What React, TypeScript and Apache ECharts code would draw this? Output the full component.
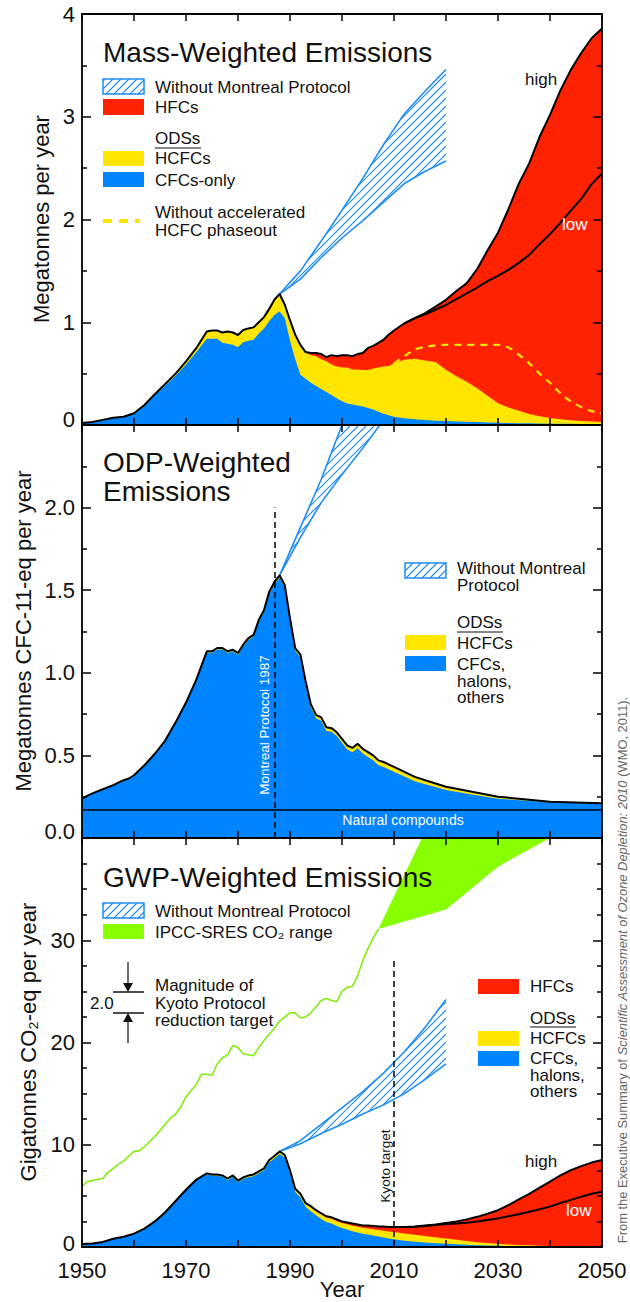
import React, { useEffect, useRef } from "react";
import * as echarts from "echarts";

// ---------- shared x values ----------
const YEARS = [
  1950, 1952, 1954, 1956, 1958, 1960, 1962, 1964, 1966, 1968, 1970, 1972,
  1974, 1975, 1976, 1977, 1978, 1979, 1980, 1981, 1982, 1983,
  1984, 1985, 1986, 1987, 1988, 1989, 1990, 1991, 1992, 1993,
  1994, 1995, 1996, 1997, 1998, 1999, 2000, 2001, 2002, 2003,
  2004, 2005, 2006, 2007, 2008, 2009, 2010,
  2012, 2014, 2016, 2018, 2020, 2022, 2024, 2026, 2028, 2030,
  2032, 2034, 2036, 2038, 2040, 2042, 2044, 2046, 2048, 2050,
];
const BAND_YEARS = [1988, 1992, 1996, 2000, 2004, 2008, 2012, 2016, 2020];

// ---------- Panel 1: mass-weighted (Mt/yr) ----------
const MASS_CFC = [
  0.02, 0.03, 0.05, 0.07, 0.08, 0.11, 0.19, 0.29, 0.385, 0.48, 0.59, 0.71,
  0.84, 0.84, 0.84, 0.8, 0.79, 0.78, 0.756, 0.805, 0.82, 0.83,
  0.89, 0.94, 1.01, 1.07, 1.105, 1.04, 0.82, 0.64, 0.49, 0.45,
  0.41, 0.38, 0.35, 0.32, 0.29, 0.26, 0.23, 0.21, 0.2, 0.19,
  0.18, 0.165, 0.15, 0.13, 0.11, 0.095, 0.08,
  0.065, 0.055, 0.048, 0.042, 0.038, 0.034, 0.031, 0.028, 0.025, 0.022,
  0.02, 0.018, 0.016, 0.015, 0.013, 0.012, 0.011, 0.01, 0.009, 0.008,
];
const MASS_HCFC = [
  0, 0, 0, 0, 0, 0.005, 0.005, 0.01, 0.015, 0.02, 0.03, 0.04,
  0.07, 0.08, 0.08, 0.1, 0.12, 0.12, 0.12, 0.12, 0.12, 0.12,
  0.11, 0.11, 0.12, 0.15, 0.17, 0.13, 0.2, 0.24, 0.29, 0.26,
  0.27, 0.29, 0.29, 0.3, 0.3, 0.31, 0.33, 0.35, 0.34, 0.35,
  0.355, 0.37, 0.4, 0.43, 0.46, 0.48, 0.52,
  0.57, 0.59, 0.58, 0.57, 0.5, 0.44, 0.39, 0.33, 0.26, 0.19,
  0.15, 0.12, 0.09, 0.07, 0.055, 0.045, 0.035, 0.03, 0.025, 0.02,
];
const MASS_HFC_HIGH = [
  0, 0, 0, 0, 0, 0, 0, 0, 0, 0, 0, 0,
  0, 0, 0, 0, 0, 0, 0, 0, 0, 0,
  0, 0, 0, 0, 0, 0, 0, 0, 0, 0,
  0.02, 0.03, 0.05, 0.04, 0.09, 0.1, 0.12, 0.12, 0.13, 0.15,
  0.165, 0.215, 0.22, 0.24, 0.26, 0.305, 0.32,
  0.355, 0.395, 0.46, 0.54, 0.68, 0.83, 0.96, 1.16, 1.415, 1.66,
  1.93, 2.21, 2.44, 2.72, 2.95, 3.2, 3.41, 3.58, 3.73, 3.83,
];
const MASS_HFC_LOW = [
  0, 0, 0, 0, 0, 0, 0, 0, 0, 0, 0, 0,
  0, 0, 0, 0, 0, 0, 0, 0, 0, 0,
  0, 0, 0, 0, 0, 0, 0, 0, 0, 0,
  0.02, 0.03, 0.05, 0.04, 0.09, 0.1, 0.12, 0.12, 0.13, 0.15,
  0.165, 0.215, 0.22, 0.24, 0.26, 0.305, 0.32,
  0.355, 0.395, 0.45, 0.51, 0.63, 0.75, 0.86, 0.98, 1.115, 1.24,
  1.34, 1.44, 1.55, 1.675, 1.79, 1.91, 2.04, 2.16, 2.31, 2.42,
];
const NO_ACCEL_YEARS = [2010, 2012, 2014, 2016, 2018, 2020, 2022, 2024, 2026, 2028, 2030, 2032, 2034, 2036, 2038, 2040, 2042, 2044, 2046, 2048, 2050];
const MASS_NO_ACCEL = [0.6, 0.67, 0.735, 0.76, 0.775, 0.78, 0.78, 0.78, 0.78, 0.78, 0.78, 0.755, 0.685, 0.6, 0.5, 0.41, 0.31, 0.23, 0.175, 0.135, 0.115];
const MASS_NOMP_LOW = [1.275, 1.42, 1.63, 1.82, 1.99, 2.17, 2.35, 2.47, 2.57];
const MASS_NOMP_HIGH = [1.275, 1.5, 1.79, 2.09, 2.4, 2.73, 3.03, 3.25, 3.46];

// ---------- Panel 2: ODP-weighted (Mt CFC-11-eq/yr) ----------
const ODP_YEARS = [
  1950, 1952, 1954, 1956, 1958, 1959, 1960,
  1962, 1964, 1966, 1968, 1970, 1972,
  1974, 1975, 1976, 1977, 1978, 1979, 1980, 1981, 1982, 1983, 1984, 1985, 1986, 1987, 1988, 1989, 1990, 1991, 1992, 1993,
  1994, 1995, 1996, 1997, 1998, 1999, 2000, 2001, 2002, 2003, 2004, 2005, 2006, 2007, 2008,
  2010, 2012, 2014, 2016, 2018, 2020,
  2025, 2030, 2035, 2040, 2045, 2050,
];
const ODP_TOTAL = [
  0.24, 0.27, 0.295, 0.32, 0.35, 0.36, 0.38,
  0.44, 0.51, 0.59, 0.7, 0.82, 0.96,
  1.13, 1.13, 1.15, 1.15, 1.13, 1.14, 1.12, 1.17, 1.21, 1.23, 1.32, 1.38, 1.49, 1.55, 1.59, 1.53, 1.33, 1.15, 1.11, 0.95,
  0.81, 0.745, 0.73, 0.67, 0.665, 0.64, 0.6, 0.56, 0.545, 0.57, 0.54, 0.52, 0.5, 0.47, 0.46,
  0.43, 0.4, 0.37, 0.35, 0.33, 0.31,
  0.28, 0.25, 0.235, 0.22, 0.215, 0.21,
];
const ODP_HCFC = [
  0.001, 0.001, 0.002, 0.002, 0.002, 0.003, 0.003,
  0.003, 0.004, 0.004, 0.005, 0.006, 0.007,
  0.008, 0.008, 0.009, 0.009, 0.01, 0.01, 0.01, 0.011, 0.011, 0.011, 0.012, 0.012, 0.013, 0.014, 0.014, 0.015, 0.016, 0.016, 0.017, 0.018,
  0.019, 0.02, 0.021, 0.022, 0.022, 0.023, 0.024, 0.025, 0.026, 0.027, 0.028, 0.029, 0.03, 0.03, 0.03,
  0.029, 0.028, 0.026, 0.024, 0.022, 0.02,
  0.016, 0.012, 0.008, 0.005, 0.003, 0.002,
];
const ODP_NATURAL = 0.175;
const ODP_NOMP_LOW = [1.59, 1.82, 2.03, 2.2, 2.36, 2.53, 2.7, 2.88, 3.05];
const ODP_NOMP_HIGH = [1.59, 1.88, 2.17, 2.5, 2.85, 3.2, 3.55, 3.9, 4.25];
const MONTREAL_YEAR = 1987;
const MONTREAL_TOP = 2.0;

// ---------- Panel 3: GWP-weighted (Gt CO2-eq/yr) ----------
const GWP_CFC = [
  0.3, 0.35, 0.5, 0.79, 0.99, 1.28, 1.78, 2.47, 3.36, 4.45, 5.54, 6.52,
  7.1, 6.99, 6.98, 6.87, 6.56, 6.85, 6.35, 6.64, 6.83, 6.92,
  7.21, 7.5, 8.28, 8.66, 9.09, 8.72, 7.2, 5.38, 4.86, 3.94,
  3.5, 3.1, 2.75, 2.45, 2.3, 2.05, 1.85, 1.7, 1.55, 1.42,
  1.3, 1.22, 1.12, 1.02, 0.93, 0.84, 0.76,
  0.62, 0.52, 0.44, 0.37, 0.31, 0.26, 0.22, 0.18, 0.15, 0.13,
  0.11, 0.09, 0.08, 0.07, 0.06, 0.05, 0.045, 0.04, 0.035, 0.03,
];
const GWP_HCFC = [
  0, 0, 0, 0.01, 0.01, 0.02, 0.02, 0.03, 0.04, 0.05, 0.06, 0.08,
  0.1, 0.11, 0.12, 0.13, 0.14, 0.15, 0.15, 0.16, 0.17, 0.18,
  0.19, 0.2, 0.22, 0.24, 0.26, 0.28, 0.3, 0.32, 0.34, 0.36,
  0.38, 0.4, 0.42, 0.44, 0.46, 0.48, 0.5, 0.52, 0.54, 0.56,
  0.58, 0.6, 0.62, 0.64, 0.66, 0.68, 0.7,
  0.7, 0.68, 0.64, 0.58, 0.52, 0.44, 0.36, 0.29, 0.23, 0.18,
  0.14, 0.11, 0.08, 0.06, 0.05, 0.04, 0.03, 0.025, 0.02, 0.015,
];
const GWP_HFC_HIGH = [
  0, 0, 0, 0, 0, 0, 0, 0, 0, 0, 0, 0,
  0, 0, 0, 0, 0, 0, 0, 0, 0, 0,
  0, 0, 0, 0, 0, 0, 0, 0, 0, 0,
  0.12, 0.1, 0.13, 0.11, 0.14, 0.17, 0.15, 0.18, 0.21, 0.22,
  0.22, 0.28, 0.31, 0.34, 0.41, 0.43, 0.49,
  0.63, 0.8, 1.02, 1.25, 1.52, 1.8, 2.12, 2.48, 2.87, 3.29,
  3.85, 4.45, 5.04, 5.67, 6.29, 6.91, 7.43, 7.84, 8.2, 8.46,
];
const GWP_HFC_LOW = [
  0, 0, 0, 0, 0, 0, 0, 0, 0, 0, 0, 0,
  0, 0, 0, 0, 0, 0, 0, 0, 0, 0,
  0, 0, 0, 0, 0, 0, 0, 0, 0, 0,
  0.12, 0.1, 0.13, 0.11, 0.14, 0.17, 0.15, 0.18, 0.21, 0.22,
  0.22, 0.28, 0.31, 0.34, 0.41, 0.43, 0.49,
  0.63, 0.78, 0.97, 1.2, 1.42, 1.6, 1.8, 2.03, 2.27, 2.49,
  2.75, 3.0, 3.29, 3.57, 3.84, 4.21, 4.53, 4.84, 5.15, 5.36,
];
const GWP_NOMP_LOW = [9.35, 10.1, 11.1, 12.0, 13.0, 13.9, 15.0, 16.4, 17.9];
const GWP_NOMP_HIGH = [9.35, 10.4, 12.0, 13.6, 15.2, 17.0, 19.1, 21.5, 24.2];
const CO2_YEARS = [
  1950, 1951, 1952, 1953, 1954, 1955, 1956, 1957, 1958, 1959,
  1960, 1961, 1962, 1963, 1964, 1965, 1966, 1967, 1968, 1969,
  1970, 1971, 1972, 1973, 1974, 1975, 1976, 1977, 1978, 1979,
  1980, 1981, 1982, 1983, 1984, 1985, 1986, 1987, 1988, 1989,
  1990, 1991, 1992, 1993, 1994, 1995, 1996, 1997, 1998, 1999,
  2000, 2001, 2002, 2003, 2004, 2005, 2006, 2007,
];
const CO2_EMIS = [
  5.9, 6.4, 6.5, 6.6, 6.7, 7.3, 7.7, 8.1, 8.4, 8.9,
  9.35, 9.4, 9.8, 10.3, 10.8, 11.4, 12.0, 12.6, 13.0, 13.7,
  14.7, 15.3, 15.9, 16.9, 16.9, 16.8, 17.9, 18.5, 18.8, 19.7,
  19.5, 18.9, 18.8, 18.7, 19.5, 20.2, 20.8, 21.4, 22.1, 22.5,
  22.9, 22.9, 22.4, 22.5, 22.9, 23.5, 24.1, 24.3, 24.1, 24.0,
  25.0, 25.4, 25.5, 26.5, 28.0, 29.2, 30.2, 31.1,
];
const SRES_YEARS = [2007, 2020, 2030, 2040, 2050];
const SRES_LOW = [31.1, 33.0, 37.2, 40.0, 42.5];
const SRES_HIGH = [31.1, 44.9, 55.5, 66.0, 76.5];
const KYOTO_YEAR = 2010;
const KYOTO_TOP = 28;

// ---------- styles ----------
const FONT = '"Liberation Sans", Arial, Helvetica, sans-serif';
const INK = "#111111";
const BLUE = "#0084ff";
const YELLOW = "#ffe600";
const RED = "#ff2200";
const GREEN = "#88ff00";
const GREEN_LINE = "#86ec10";
const HATCH = "#1f8cf0";
const HATCH_GAP = 8;

const pairs = (xs: number[], ys: number[]) => xs.map((x, i) => [x, ys[i]]);
const add = (...arrs: number[][]) => arrs[0].map((_, i) => arrs.reduce((s, a) => s + a[i], 0));
const sub = (a: number[], b: number[]) => a.map((v, i) => v - b[i]);
const from = (xs: number[], ys: number[], start: number) =>
  xs.map((x, i) => [x, ys[i]]).filter((p) => p[0] >= start);

// clip a pixel polygon to y >= yTop (Sutherland-Hodgman, one edge)
function clipTop(poly: number[][], yTop: number) {
  const out: number[][] = [];
  for (let i = 0; i < poly.length; i++) {
    const a = poly[i];
    const b = poly[(i + 1) % poly.length];
    const ain = a[1] >= yTop;
    const bin = b[1] >= yTop;
    if (ain) out.push(a);
    if (ain !== bin) {
      const t = (yTop - a[1]) / (b[1] - a[1]);
      out.push([a[0] + t * (b[0] - a[0]), yTop]);
    }
  }
  return out;
}
// "/" hatch segments inside a pixel polygon
function hatchSegs(poly: number[][], gap: number) {
  let lo = Infinity;
  let hi = -Infinity;
  poly.forEach((p) => {
    lo = Math.min(lo, p[0] + p[1]);
    hi = Math.max(hi, p[0] + p[1]);
  });
  const segs: number[][] = [];
  for (let c = Math.ceil(lo / gap) * gap; c <= hi; c += gap) {
    const xs: number[] = [];
    for (let i = 0; i < poly.length; i++) {
      const a = poly[i];
      const b = poly[(i + 1) % poly.length];
      const fa = a[0] + a[1] - c;
      const fb = b[0] + b[1] - c;
      if (fa < 0 !== fb < 0) {
        const t = fa / (fa - fb);
        xs.push(a[0] + t * (b[0] - a[0]));
      }
    }
    xs.sort((m, n) => m - n);
    for (let k = 0; k + 1 < xs.length; k += 2) segs.push([xs[k], c - xs[k], xs[k + 1], c - xs[k + 1]]);
  }
  return segs;
}

function txt(x: number, y: number, text: string, o: any = {}) {
  const size = o.size ?? 17;
  const align = o.align ?? "left";
  return {
    type: "text",
    x,
    y,
    rotation: o.rotate ?? 0,
    z: 100,
    silent: true,
    style: {
      text,
      fill: o.color ?? INK,
      font: `${size}px ${FONT}`,
      lineHeight: o.lh,
      align,
      verticalAlign: "middle",
      textAlign: align,
      textVerticalAlign: "middle",
    },
  };
}
function rect(x: number, y: number, w: number, h: number, fill: string) {
  return { type: "rect", z: 100, silent: true, shape: { x, y, width: w, height: h }, style: { fill } };
}
function seg(x1: number, y1: number, x2: number, y2: number, stroke: string, lw: number, dash?: number[]) {
  return { type: "line", z: 100, silent: true, shape: { x1, y1, x2, y2 }, style: { stroke, lineWidth: lw, lineDash: dash } };
}
function hatchBox(x: number, y: number, w: number, h: number) {
  const poly = [[x, y], [x + w, y], [x + w, y + h], [x, y + h]];
  return [
    ...hatchSegs(poly, HATCH_GAP).map((s) => seg(s[0], s[1], s[2], s[3], HATCH, 1.1)),
    { type: "rect", z: 101, silent: true, shape: { x, y, width: w, height: h }, style: { fill: "none", stroke: HATCH, lineWidth: 1.5 } },
  ];
}

const GRIDS = [
  { left: 82, top: 14, width: 520, height: 411 },
  { left: 82, top: 425, width: 520, height: 413 },
  { left: 82, top: 838, width: 520, height: 409 },
];
const Y_CFG = [
  { min: 0, max: 4, interval: 1, minor: 2, lift: 12, fmt: (v: number) => String(v) },
  { min: 0, max: 2.5, interval: 0.5, minor: 2, lift: 14, fmt: (v: number) => (v >= 2.5 ? "" : v.toFixed(1)) },
  { min: 0, max: 40, interval: 10, minor: 4, lift: 8, fmt: (v: number) => (v >= 40 ? "" : String(v)) },
];

function buildOption() {
  const axisLine = { show: true, onZero: false, lineStyle: { color: "#000", width: 1.8 } };
  const xAxis: any[] = [];
  const yAxis: any[] = [];
  GRIDS.forEach((_, gi) => {
    ["bottom", "top"].forEach((pos) => {
      const labels = gi === 2 && pos === "bottom";
      xAxis.push({
        type: "value",
        gridIndex: gi,
        position: pos,
        min: 1950,
        max: 2050,
        interval: 10,
        z: 5,
        axisLine,
        axisTick: { show: true, inside: true, length: 7, lineStyle: { color: "#000", width: 1.5 } },
        axisLabel: {
          show: labels,
          fontSize: 22,
          color: INK,
          fontFamily: FONT,
          margin: 12,
          formatter: (v: number) => ((v - 1950) % 20 === 0 ? String(v) : ""),
        },
        splitLine: { show: false },
      });
    });
    ["left", "right"].forEach((pos) => {
      const c = Y_CFG[gi];
      yAxis.push({
        type: "value",
        gridIndex: gi,
        position: pos,
        min: c.min,
        max: c.max,
        interval: c.interval,
        z: 5,
        axisLine,
        axisTick: { show: true, inside: true, length: 9, lineStyle: { color: "#000", width: 1.5 } },
        minorTick: { show: true, splitNumber: c.minor, length: 5, lineStyle: { color: "#000", width: 1.5 } },
        axisLabel: {
          show: pos === "left",
          fontSize: 22,
          color: INK,
          fontFamily: FONT,
          margin: 7,
          formatter: (v: number) => (v === 0 ? `{z|${c.fmt(v)}}` : c.fmt(v)),
          rich: { z: { fontSize: 22, fontFamily: FONT, color: INK, padding: [0, 0, c.lift, 0] } },
        },
        splitLine: { show: false },
        minorSplitLine: { show: false },
      });
    });
  });

  const ax = (gi: number) => ({ xAxisIndex: gi * 2, yAxisIndex: gi * 2 });
  const base = { type: "line", symbol: "none", silent: true, smooth: false, animation: false };
  const area = (gi: number, data: any[], color: string) => ({
    ...base,
    ...ax(gi),
    data,
    lineStyle: { width: 0, opacity: 0 },
    areaStyle: { color, opacity: 1 },
  });
  const line = (gi: number, data: any[], color: string, width: number, extra: any = {}) => ({
    ...base,
    ...ax(gi),
    data,
    ...extra,
    lineStyle: { color, width, ...(extra.lineStyle || {}) },
  });
  // region between two curves, drawn with the grid's own scales
  const region = (gi: number, xs: number[], lo: number[], hi: number[], kind: "hatch" | "fill", color: string) => ({
    type: "custom",
    ...ax(gi),
    clip: true,
    silent: true,
    animation: false,
    data: [[xs[0], lo[0]]],
    renderItem: (_p: any, api: any) => {
      const yTop = api.coord([1950, Y_CFG[gi].max])[1];
      const top = xs.map((x, i) => api.coord([x, hi[i]]));
      const bot = xs.map((x, i) => api.coord([x, lo[i]])).reverse();
      const poly = clipTop([...top, ...bot], yTop);
      if (kind === "fill") {
        return { type: "polygon", shape: { points: poly }, style: { fill: color, stroke: "none" } };
      }
      return {
        type: "group",
        children: hatchSegs(poly, HATCH_GAP).map((s) => ({
          type: "line",
          shape: { x1: s[0], y1: s[1], x2: s[2], y2: s[3] },
          style: { stroke: color, lineWidth: 1.1 },
        })),
      };
    },
  });
  const band = (gi: number, lo: number[], hi: number[]) => [
    region(gi, BAND_YEARS, lo, hi, "hatch", HATCH),
    line(gi, pairs(BAND_YEARS, hi), HATCH, 1.6),
    line(gi, pairs(BAND_YEARS, lo), HATCH, 1.6),
  ];

  const massOds = add(MASS_CFC, MASS_HCFC);
  const massHigh = add(massOds, MASS_HFC_HIGH);
  const massLow = add(massOds, MASS_HFC_LOW);
  const odpOther = sub(ODP_TOTAL, ODP_HCFC);
  const gwpOds = add(GWP_CFC, GWP_HCFC);
  const gwpHigh = add(gwpOds, GWP_HFC_HIGH);
  const gwpLow = add(gwpOds, GWP_HFC_LOW);

  const dashed = { type: [6, 4], color: "#000", width: 1.5 };
  const series: any[] = [
    // ---- panel 1 ----
    ...band(0, MASS_NOMP_LOW, MASS_NOMP_HIGH),
    area(0, pairs(YEARS, massHigh), RED),
    area(0, pairs(YEARS, massOds), YELLOW),
    area(0, pairs(YEARS, MASS_CFC), BLUE),
    line(0, pairs(NO_ACCEL_YEARS, MASS_NO_ACCEL), YELLOW, 2.2, { smooth: 0.3, lineStyle: { type: [7, 6] } }),
    line(0, from(YEARS, massLow, 2012), "#000", 2),
    line(0, pairs(YEARS, massHigh), "#000", 2),
    // ---- panel 2 ----
    ...band(1, ODP_NOMP_LOW, ODP_NOMP_HIGH),
    area(1, pairs(ODP_YEARS, ODP_TOTAL), YELLOW),
    area(1, pairs(ODP_YEARS, odpOther), BLUE),
    line(1, pairs(ODP_YEARS, ODP_TOTAL), "#000", 2, {
      markLine: {
        silent: true,
        symbol: ["none", "none"],
        label: { show: false },
        animation: false,
        data: [
          [{ coord: [MONTREAL_YEAR, 0], lineStyle: dashed }, { coord: [MONTREAL_YEAR, MONTREAL_TOP] }],
          { yAxis: ODP_NATURAL, lineStyle: { type: "solid", color: "#000", width: 1.5 } },
        ],
      },
    }),
    // ---- panel 3 ----
    region(2, SRES_YEARS, SRES_LOW, SRES_HIGH, "fill", GREEN),
    line(2, pairs(CO2_YEARS, CO2_EMIS), GREEN_LINE, 1.6),
    ...band(2, GWP_NOMP_LOW, GWP_NOMP_HIGH),
    area(2, pairs(YEARS, gwpHigh), RED),
    area(2, pairs(YEARS, gwpOds), YELLOW),
    area(2, pairs(YEARS, GWP_CFC), BLUE),
    line(2, from(YEARS, gwpLow, 2012), "#000", 2),
    line(2, pairs(YEARS, gwpHigh), "#000", 2, {
      markLine: {
        silent: true,
        symbol: ["none", "none"],
        label: { show: false },
        animation: false,
        data: [[{ coord: [KYOTO_YEAR, 0], lineStyle: dashed }, { coord: [KYOTO_YEAR, KYOTO_TOP] }]],
      },
    }),
  ];

  const g: any[] = [
    // axis names
    txt(41, 219, "Megatonnes per year", { size: 22, align: "center", rotate: Math.PI / 2 }),
    txt(23, 631, "Megatonnes CFC-11-eq per year", { size: 22, align: "center", rotate: Math.PI / 2 }),
    txt(28, 1042, "Gigatonnes CO₂-eq per year", { size: 22, align: "center", rotate: Math.PI / 2 }),
    txt(342, 1289, "Year", { size: 22, align: "center" }),
    // panel 1
    txt(103, 52, "Mass-Weighted Emissions", { size: 28 }),
    ...hatchBox(103, 79, 41, 15),
    txt(155, 87, "Without Montreal Protocol"),
    rect(103, 99, 41, 16, RED),
    txt(155, 107, "HFCs"),
    txt(155, 138, "ODSs"),
    seg(155, 148, 201, 148, INK, 1),
    rect(103, 151, 41, 15, YELLOW),
    txt(155, 158, "HCFCs"),
    rect(103, 172, 41, 15, BLUE),
    txt(155, 180, "CFCs-only"),
    seg(103, 221, 140, 221, YELLOW, 4, [9, 7]),
    txt(155, 221, "Without accelerated\nHCFC phaseout", { lh: 18 }),
    txt(525, 79, "high"),
    txt(562, 224, "low", { color: "#ffffff" }),
    // panel 2
    txt(103, 477, "ODP-Weighted\nEmissions", { size: 28, lh: 29 }),
    ...hatchBox(405, 563, 41, 15),
    txt(457, 577, "Without Montreal\nProtocol", { lh: 17 }),
    txt(457, 622, "ODSs"),
    seg(457, 632, 503, 632, INK, 1),
    rect(405, 635, 41, 15, YELLOW),
    txt(457, 643, "HCFCs"),
    rect(405, 656, 41, 15, BLUE),
    txt(457, 681, "CFCs,\nhalons,\nothers", { lh: 16.5 }),
    txt(403, 820, "Natural compounds", { size: 14, align: "center", color: "#ffffff" }),
    txt(264, 725, "Montreal Protocol 1987", { size: 13.5, align: "center", color: "#ffffff", rotate: Math.PI / 2 }),
    // panel 3
    txt(103, 877, "GWP-Weighted Emissions", { size: 28 }),
    ...hatchBox(103, 903, 41, 15),
    txt(155, 911, "Without Montreal Protocol"),
    rect(103, 924, 41, 15, GREEN),
    txt(155, 932, "IPCC-SRES CO₂ range"),
    seg(128, 962, 128, 986, INK, 1.2),
    seg(128, 1019, 128, 1043, INK, 1.2),
    seg(113, 992, 144, 992, INK, 1.5),
    seg(113, 1013, 144, 1013, INK, 1.5),
    { type: "polygon", z: 100, silent: true, shape: { points: [[123, 983], [133, 983], [128, 992]] }, style: { fill: INK } },
    { type: "polygon", z: 100, silent: true, shape: { points: [[123, 1022], [133, 1022], [128, 1013]] }, style: { fill: INK } },
    txt(90, 1003, "2.0"),
    txt(155, 1003, "Magnitude of\nKyoto Protocol\nreduction target", { lh: 17.5 }),
    rect(478, 979, 41, 15, RED),
    txt(530, 986, "HFCs"),
    txt(530, 1018, "ODSs"),
    seg(530, 1027, 576, 1027, INK, 1),
    rect(478, 1031, 41, 15, YELLOW),
    txt(530, 1038, "HCFCs"),
    rect(478, 1051, 41, 15, BLUE),
    txt(530, 1075, "CFCs,\nhalons,\nothers", { lh: 16.5 }),
    txt(385, 1166, "Kyoto target", { size: 13.5, align: "center", rotate: Math.PI / 2 }),
    txt(525, 1161, "high"),
    txt(566, 1210, "low", { color: "#ffffff" }),
    // source note
    {
      type: "text",
      x: 622,
      y: 970,
      rotation: Math.PI / 2,
      z: 100,
      silent: true,
      style: {
        text: "{n|From the Executive Summary of }{i|Scientific Assessment of Ozone Depletion: 2010}{n| (WMO, 2011).}",
        align: "center",
        verticalAlign: "middle",
        textAlign: "center",
        textVerticalAlign: "middle",
        font: `12.9px ${FONT}`,
        fill: "#666",
        rich: {
          n: { fontFamily: FONT, fontSize: 12.9, fill: "#666", color: "#666" },
          i: { fontFamily: FONT, fontSize: 12.9, fontStyle: "italic", fill: "#666", color: "#666" },
        },
      },
    },
  ];

  return {
    animation: false,
    backgroundColor: "#ffffff",
    grid: GRIDS.map((gr) => ({ ...gr, containLabel: false })),
    xAxis,
    yAxis,
    series,
    graphic: { elements: g },
  };
}

export default function App() {
  const ref = useRef<HTMLDivElement>(null);
  useEffect(() => {
    if (!ref.current) return;
    const chart = echarts.init(ref.current, null, { renderer: "svg" });
    chart.setOption(buildOption());
    return () => chart.dispose();
  }, []);
  return (
    <div ref={ref} style={{ position: "absolute", left: 0, top: 0, width: 630, height: 1302, background: "#fff" }} />
  );
}
